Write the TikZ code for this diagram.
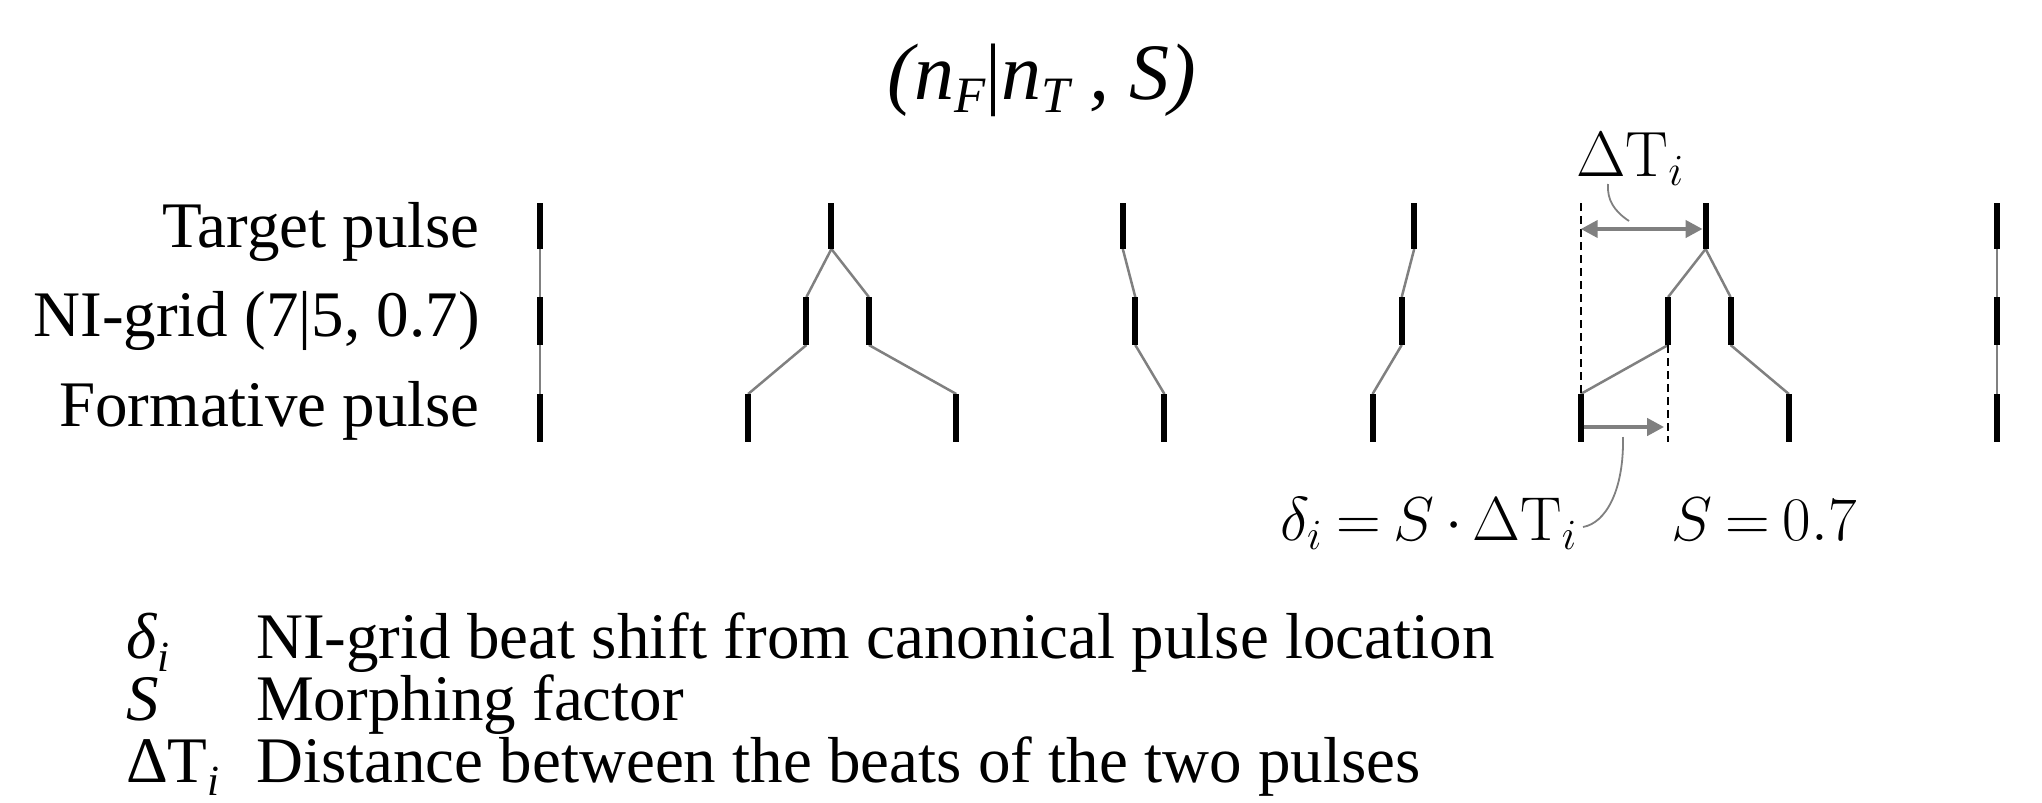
\documentclass[tikz,border=0pt]{standalone}
\usepackage[no-math]{fontspec}
\setmainfont{Liberation Serif}
\usetikzlibrary{arrows.meta,calc}
\newcommand{\lsub}[1]{\raisebox{-0.2em}{\fontsize{43bp}{43bp}\selectfont\textit{#1}}}
\newcommand{\tsub}[1]{\raisebox{-0.16em}{\fontsize{51bp}{51bp}\selectfont\textit{#1}}}
\newcommand{\bigmath}[2]{\scalebox{#1}{\fontsize{20bp}{24bp}\selectfont\thickmuskip=3.8mu\medmuskip=3mu$#2$}}
\tikzset{
  bar/.style={line width=6bp, black},
  link/.style={line width=2.5bp, gray},
  guide/.style={line width=2.2bp, black, dash pattern=on 8bp off 5bp},
  dim/.style={line width=4bp, gray, arrows={-Triangle[length=17bp,width=17bp]}},
  callout/.style={line width=1.8bp, gray},
  lab/.style={font=\fontsize{65bp}{72bp}\selectfont, inner sep=0pt},
  mlab/.style={inner sep=0pt},
  ttl/.style={font=\fontsize{80bp}{90bp}\selectfont, inner sep=0pt}
}
\begin{document}
\begin{tikzpicture}[x=1bp,y=-1bp]
\useasboundingbox (0,0) rectangle (2042,803);
\def\xa{540}\def\L{1457}
% coordinates of bar ends
\foreach \i in {0,...,5} {
  \coordinate (Tt\i) at ({\xa+\i*\L/5},203);
  \coordinate (Tb\i) at ({\xa+\i*\L/5},249);
}
\foreach \i in {0,...,7} {
  \coordinate (Ft\i) at ({\xa+\i*\L/7},394);
  \coordinate (Fb\i) at ({\xa+\i*\L/7},442);
}
\foreach \i/\f in {0/0, 1/0.182857, 2/0.225714, 3/0.408571, 4/0.591429, 5/0.774286, 6/0.817143, 7/1} {
  \coordinate (Nt\i) at ({\xa+\f*\L},297);
  \coordinate (Nb\i) at ({\xa+\f*\L},345);
}
% links
\foreach \f/\t in {0/0,1/1,2/1,3/2,4/3,5/4,6/4,7/5} {
  \draw[link] (Tb\t) -- (Nt\f);
  \draw[link] (Nb\f) -- (Ft\f);
}
% bars
\foreach \i in {0,...,5} { \draw[bar] (Tt\i) -- (Tb\i); }
\foreach \i in {0,...,7} { \draw[bar] (Ft\i) -- (Fb\i); \draw[bar] (Nt\i) -- (Nb\i); }
% dashed guides
\draw[guide] (Ft5 |- Tt0) -- (Ft5);
\draw[guide] (Nb5) -- (Nb5 |- Fb0);
% dimension arrows
\coordinate (dTa) at ($(Ft5 |- Tt0)+(0,26)$);
\coordinate (dTb) at ($(Tt4)+(0,26)$);
\draw[dim, arrows={Triangle[length=17bp,width=17bp]-Triangle[length=17bp,width=17bp]}, shorten >=3bp] (dTa) -- (dTb);
\coordinate (dla) at ($(Ft5)+(3,33)$);
\coordinate (dlb) at ($(Nb5)+(-4,82)$);
\draw[dim] (dla) -- (dlb);
% labels
\node[ttl, anchor=base] (title) at (1042,100) {\textit{(n\tsub{F}}\textup{|}\textit{n\tsub{T} , S)}};
\node[lab, anchor=base east] (lt) at (480,247) {Target pulse};
\node[lab, anchor=base east] (ln) at (480,336) {NI-grid (7|5, 0.7)};
\node[lab, anchor=base east] (lf) at (480,426) {Formative pulse};
\node[mlab, anchor=base west] (dTlab) at (1576,176) {\bigmath{3.1}{\Delta\mathrm{T}_i}};
\node[mlab, anchor=base west] (formula) at (1280,540) {\bigmath{3.0}{\delta_i = S\cdot\Delta\mathrm{T}_i}};
\node[mlab, anchor=base west] (sval) at (1671,540) {\bigmath{3.0}{S = 0.7}};
% callouts
\coordinate (c1a) at (1608,184);
\coordinate (c1b) at (1629,221);
\draw[callout] (c1a) .. controls (1607,200) and (1614,211) .. (c1b);
\coordinate (c2a) at (1623,437);
\coordinate (c2b) at (1583,527);
\draw[callout] (c2a) .. controls (1624,490) and (1606,523) .. (c2b);
% legend
\node[lab, anchor=base west] (s1) at (126,658) {\textit{δ}\lsub{i}};
\node[lab, anchor=base west] (t1) at (256,658) {NI-grid beat shift from canonical pulse location};
\node[lab, anchor=base west] (s2) at (126,720) {\textit{S}};
\node[lab, anchor=base west] (t2) at (256,720) {Morphing factor};
\node[lab, anchor=base west] (s3) at (126,782) {ΔT\lsub{i}};
\node[lab, anchor=base west] (t3) at (256,782) {Distance between the beats of the two pulses};
\end{tikzpicture}
\end{document}
